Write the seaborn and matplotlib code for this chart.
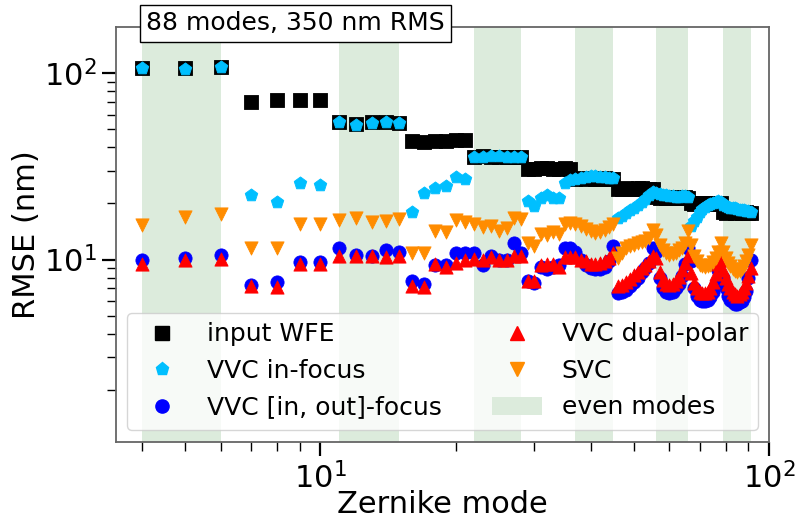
import numpy as np
import pandas as pd
import matplotlib
matplotlib.use("Agg")
import matplotlib.pyplot as plt
from matplotlib.lines import Line2D
from matplotlib.patches import Patch
import seaborn as sns

# Zernike modes 4..91 (88 modes)
modes = list(range(4, 92))

input_wfe = [107, 106, 108,
             70.5, 71.5, 71.5, 71.8,
             54.5, 53.5, 54.5, 54.5, 54.0,
             43.5, 43.0, 43.5, 43.2, 43.8, 44.0,
             35.5, 35.8, 35.6, 35.4, 35.7, 35.5, 35.6,
             30.8, 30.5, 30.9, 31.0, 30.6, 30.8, 31.0, 30.5,
             27.0, 27.3, 27.1, 27.4, 27.2, 27.0, 27.3, 27.1, 27.2,
             24.0, 23.8, 24.2, 24.0, 23.9, 24.1, 24.3, 24.0, 23.8, 24.0,
             21.6, 21.4, 21.7, 21.5, 21.6, 21.3, 21.5, 21.7, 21.4, 21.6, 21.5,
             20.0, 19.8, 20.1, 20.2, 19.9, 20.0, 20.2, 19.8, 20.1, 20.0, 19.9, 20.1,
             18.0, 17.8, 18.1, 17.9, 18.0, 17.7, 17.9, 18.1, 17.8, 18.0, 17.9, 17.7, 17.8]

vvc_in_focus = [106, 105, 108,
                22.1, 20.3, 25.9, 25.0,
                54.5, 53.0, 54.0, 54.5, 54.0,
                17.9, 22.9, 24.1, 24.7, 27.6, 26.9,
                35.3, 35.6, 35.8, 36.0, 35.5, 35.4, 35.5,
                20.7, 19.5, 21.5, 22.1, 21.5, 21.5, 25.9, 26.6,
                27.0, 27.4, 27.8, 28.0, 28.1, 27.9, 27.6, 27.4, 27.5,
                16.8, 17.2, 17.8, 18.4, 19.0, 19.6, 20.3, 21.2, 22.3, 23.0,
                22.8, 22.6, 22.3, 22.1, 22.0, 21.9, 21.8, 21.8, 21.9, 21.9, 21.7,
                15.2, 16.1, 17.0, 17.9, 18.6, 19.2, 19.6, 19.8, 20.2, 20.4, 20.6, 20.3,
                19.6, 19.3, 19.2, 19.0, 18.8, 18.8, 18.7, 18.5, 18.5, 18.4, 18.3, 18.3, 18.1]

vvc_in_out = [9.9, 10.2, 10.6,
              7.3, 7.6, 9.75, 9.75,
              11.5, 10.6, 10.5, 11.2, 11.0,
              7.7, 7.4, 9.4, 9.4, 10.8, 10.8,
              10.8, 9.3, 10.5, 9.9, 9.9, 12.2, 10.9,
              7.7, 7.5, 9.1, 8.9, 9.1, 9.3, 11.6, 11.5,
              11.0, 10.0, 9.3, 9.0, 8.9, 8.9, 9.1, 9.8, 11.8,
              6.6, 6.7, 6.9, 7.2, 7.6, 8.0, 8.6, 9.0, 9.6, 11.5,
              11.0, 8.0, 7.0, 6.7, 6.6, 6.7, 7.0, 7.4, 8.2, 9.5, 11.5,
              9.8, 7.0, 6.4, 6.1, 6.0, 6.0, 6.1, 6.3, 6.7, 7.4, 8.8, 9.8,
              8.0, 7.0, 6.4, 6.1, 5.9, 5.8, 5.8, 5.9, 6.0, 6.3, 6.8, 8.0, 10.0]

vvc_dual_polar = [9.5, 10.0, 10.1,
                  7.25, 7.1, 9.5, 9.5,
                  10.5, 10.5, 10.4, 10.3, 10.5,
                  7.25, 7.1, 9.5, 9.1, 9.6, 9.9,
                  10.1, 9.9, 10.3, 9.9, 9.9, 10.5, 10.5,
                  7.7, 7.7, 9.3, 9.5, 9.5, 9.1, 10.3, 10.3,
                  10.3, 10.0, 9.8, 9.5, 9.5, 9.6, 9.8, 10.2, 10.8,
                  7.2, 7.3, 7.6, 7.9, 8.3, 8.6, 9.0, 9.3, 9.8, 10.5,
                  10.2, 8.6, 7.8, 7.4, 7.3, 7.4, 7.7, 8.1, 8.8, 9.6, 10.5,
                  8.5, 7.5, 7.0, 6.7, 6.6, 6.6, 6.7, 7.0, 7.6, 8.4, 9.5, 10.0,
                  8.8, 8.0, 7.4, 7.0, 6.7, 6.5, 6.4, 6.5, 6.7, 7.0, 7.5, 8.2, 9.0]

svc = [15.4, 17.0, 17.5,
       11.5, 11.5, 15.6, 15.6,
       16.4, 16.8, 16.0, 16.2, 16.6,
       10.9, 10.9, 14.3, 14.0, 16.4, 16.0,
       15.6, 15.0, 15.2, 14.3, 14.8, 16.8, 16.6,
       12.2, 11.9, 13.8, 13.5, 14.0, 13.8, 15.6, 15.8,
       15.6, 15.2, 14.6, 14.2, 13.9, 14.0, 14.4, 15.0, 15.6,
       10.2, 10.8, 11.5, 11.8, 12.0, 12.2, 12.4, 12.6, 13.0, 14.5,
       13.5, 12.0, 11.2, 10.8, 10.6, 10.7, 10.9, 11.2, 11.6, 12.2, 14.2,
       12.0, 10.5, 9.8, 9.4, 9.2, 9.1, 9.2, 9.4, 9.7, 10.2, 11.0, 12.2,
       11.0, 10.2, 9.6, 9.2, 8.9, 8.7, 8.6, 8.7, 8.9, 9.2, 9.8, 10.6, 12.0]

# even radial orders: first and last mode index
even_starts = [4, 11, 22, 37, 56, 79]
even_ends = [6, 15, 28, 45, 66, 91]

labels = ["input WFE", "VVC in-focus", "VVC [in, out]-focus", "VVC dual-polar", "SVC"]
series = [input_wfe, vvc_in_focus, vvc_in_out, vvc_dual_polar, svc]
markers = ["s", "p", "o", "^", "v"]
colors = ["black", "#00BFFF", "#0000FF", "#FF0000", "#FF8C00"]
band_color = "#dcebdc"

sns.set_style("white")
plt.rcParams['font.family'] = ['DejaVu Sans']
plt.rcParams['text.color'] = 'black'
plt.rcParams['axes.labelcolor'] = 'black'
plt.rcParams['xtick.color'] = 'black'
plt.rcParams['ytick.color'] = 'black'

fig, ax = plt.subplots(figsize=(7.96, 5.21), dpi=100)
fig.subplots_adjust(left=116/796, right=769/796, top=1-27/521, bottom=1-442/521)

for s0, s1 in zip(even_starts, even_ends):
    ax.axvspan(s0, s1, color=band_color, lw=0, zorder=0)

ms = 9.5
for lab, vals, mk, col in zip(labels, series, markers, colors):
    df = pd.DataFrame({"mode": modes, "rmse": vals})
    sns.scatterplot(data=df, x="mode", y="rmse", marker=mk, color=col,
                    s=ms**2, edgecolor=col, linewidth=0.6, ax=ax, zorder=3,
                    legend=False)

ax.set_xscale("log")
ax.set_yscale("log")
ax.set_xlim(3.5, 100)
ax.set_ylim(1.05, 177)

ax.set_xlabel("Zernike mode", fontsize=22, labelpad=-3, color="black")
ax.set_ylabel("RMSE (nm)", fontsize=22, labelpad=2, color="black")
ax.tick_params(axis="both", which="major", labelsize=22, length=10, width=1.6,
               direction="out", color="black", labelcolor="black", pad=4)
ax.tick_params(axis="both", which="minor", length=6.5, width=1.0,
               direction="out", color="black")
ax.xaxis.set_ticks_position("bottom")
ax.yaxis.set_ticks_position("left")
for sp in ax.spines.values():
    sp.set_visible(True)
    sp.set_color("0.4")
    sp.set_linewidth(1.3)

handles = [Line2D([], [], ls="none", marker=mk, color=col, markersize=ms,
                  markeredgecolor=col) for mk, col in zip(markers, colors)]
handles.append(Patch(facecolor=band_color, edgecolor="none"))
leg_labels = labels + ["even modes"]
leg = ax.legend(handles, leg_labels, ncol=2, loc="lower center", fontsize=18,
                numpoints=1)
for t in leg.get_texts():
    t.set_color("black")

ax.text(0.046, 1.009, "88 modes, 350 nm RMS", transform=ax.transAxes,
        fontsize=18, ha="left", va="center", zorder=10, color="black",
        bbox=dict(facecolor="white", edgecolor="black", boxstyle="square,pad=0.25"))

fig.savefig("out.png", dpi=100)
